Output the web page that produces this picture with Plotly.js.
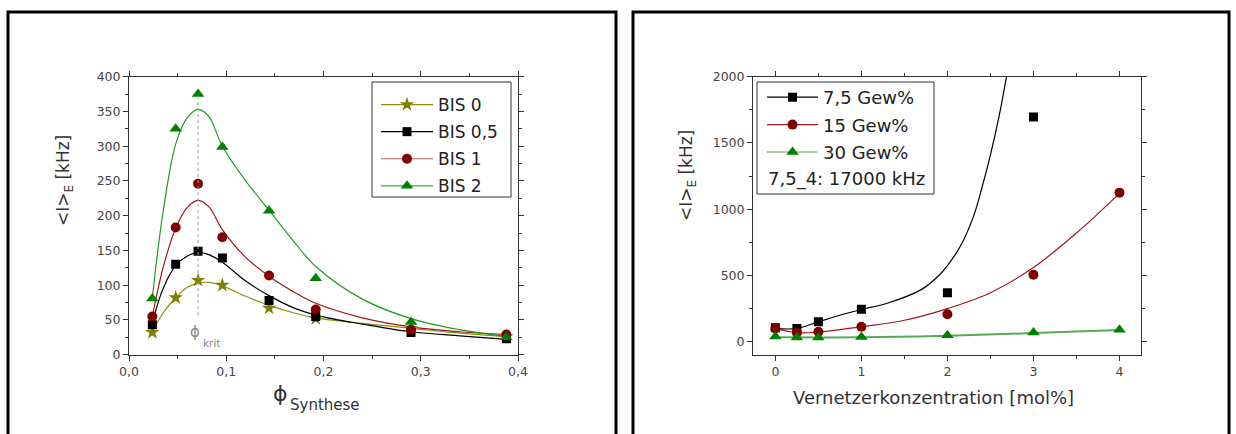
<!DOCTYPE html>
<html>
<head>
<meta charset="utf-8">
<script src="https://cdn.plot.ly/plotly-3.0.1.min.js"></script>
<style>
html,body{margin:0;padding:0;background:#fff;}
#chart{width:1236px;height:434px;}
</style>
</head>
<body>
<div id="chart"></div>
<script>
// ---------- Left panel data ----------
const phiX   = [0.024, 0.048, 0.071, 0.096, 0.144, 0.192, 0.290, 0.388];
const bis0   = [32, 82, 107, 100, 67, 52, 37, 26];
const bis05  = [43, 130, 149, 139, 78, 55, 32, 23];
const bis1   = [55, 183, 246, 169, 114, 65, 36, 29];
const bis2   = [81, 325, 375, 299, 207, 110, 47, 25];
const fitPhiX = [0.024, 0.035, 0.048, 0.06, 0.071, 0.082, 0.096, 0.12, 0.144, 0.17, 0.192, 0.24, 0.29, 0.34, 0.388];
const fitBis0  = [33, 60, 82, 97, 103, 104, 99, 84, 71, 60, 53, 45, 38, 31, 26];
const fitBis05 = [46, 95, 128, 142, 147, 144, 133, 106, 85, 67, 57, 44, 33, 27, 22];
const fitBis1  = [55, 125, 182, 212, 222, 213, 180, 140, 113, 90, 74, 53, 40, 33, 29];
const fitBis2  = [82, 205, 303, 341, 353, 343, 300, 250, 208, 162, 127, 80, 52, 36, 26];
const phiKrit = 0.071;
const phiKritLine = [57, 369];
const leftNames = ["BIS 0", "BIS 0,5", "BIS 1", "BIS 2"];

// ---------- Right panel data ----------
const concX  = [0, 0.25, 0.5, 1, 2, 3, 4];
const gew75  = [105, 100, 150, 245, 370, 1695, 17000];
const gew15  = [100, 68, 75, 113, 207, 505, 1125];
const gew30  = [40, 32, 32, 35, 48, 70, 90];
const fit75X = [0, 0.25, 0.5, 0.75, 1, 1.3, 1.7, 1.9, 2, 2.15, 2.3, 2.4, 2.5, 2.6, 2.7];
const fit75  = [100, 100, 150, 200, 243, 290, 395, 500, 575, 720, 940, 1160, 1410, 1700, 2050];
const fit15X = [0, 0.25, 0.5, 1, 1.5, 2, 2.5, 3, 3.5, 4];
const fit15  = [100, 68, 72, 113, 162, 250, 370, 560, 820, 1120];
const fit30X = [0, 0.5, 1, 2, 3, 4];
const fit30  = [33, 32, 33, 45, 65, 88];
const rightNames = ["7,5 Gew%", "15 Gew%", "30 Gew%"];
const extraNote = "7,5_4: 17000 kHz";

// ---------- helpers ----------
const W = 1236, H = 434;
const px = v => v / W;
const py = v => 1 - v / H;
const FONT = "DejaVu Sans, Liberation Sans, sans-serif";

const cOlive = "#808000", cOliveL = "#8f8f10";
const cBlack = "#000000";
const cRed = "#800000", cRedL = "#a01818";
const cGreen = "#008000", cGreenL = "#1f9a1f", cGreenR = "#55aa55";

function fit(x, y, color, xa, ya, width) {
  return {x: x, y: y, xaxis: xa, yaxis: ya, mode: "lines", type: "scatter",
    line: {color: color, width: width || 1.2, shape: "spline", smoothing: 1},
    showlegend: false, hoverinfo: "skip"};
}
function pts(x, y, color, sym, size, xa, ya) {
  return {x: x, y: y, xaxis: xa, yaxis: ya, mode: "markers", type: "scatter",
    marker: {color: color, symbol: sym, size: size, line: {width: 0}},
    showlegend: false, cliponaxis: true};
}
function leg(name, lineColor, mColor, sym, size, legendId, grp) {
  return {x: [null], y: [null], mode: "lines+markers", type: "scatter", name: name,
    xaxis: legendId === "legend" ? "x" : "x2", yaxis: legendId === "legend" ? "y" : "y2",
    line: {color: lineColor, width: 1.2}, marker: {color: mColor, symbol: sym, size: size},
    legend: legendId, legendgroup: grp, showlegend: true};
}

const traces = [
  fit(fitPhiX, fitBis0, cOliveL, "x", "y"),
  fit(fitPhiX, fitBis05, cBlack, "x", "y"),
  fit(fitPhiX, fitBis1, cRedL, "x", "y"),
  fit(fitPhiX, fitBis2, cGreenL, "x", "y"),
  pts(phiX, bis0, cOlive, "star", 11, "x", "y"),
  pts(phiX, bis05, cBlack, "square", 9, "x", "y"),
  pts(phiX, bis1, cRed, "circle", 10, "x", "y"),
  pts(phiX, bis2, cGreen, "triangle-up", 11, "x", "y"),
  leg(leftNames[0], cOliveL, cOlive, "star", 11, "legend", "a"),
  leg(leftNames[1], cBlack, cBlack, "square", 9, "legend", "b"),
  leg(leftNames[2], "#b06060", cRed, "circle", 10, "legend", "c"),
  leg(leftNames[3], "#3aa83a", cGreen, "triangle-up", 11, "legend", "d"),

  fit(fit75X, fit75, cBlack, "x2", "y2"),
  fit(fit15X, fit15, cRedL, "x2", "y2"),
  fit(fit30X, fit30, cGreenR, "x2", "y2", 2),
  pts(concX, gew75, cBlack, "square", 9, "x2", "y2"),
  pts(concX, gew15, cRed, "circle", 10, "x2", "y2"),
  pts(concX, gew30, cGreen, "triangle-up", 11, "x2", "y2"),
  leg(rightNames[0], cBlack, cBlack, "square", 9, "legend2", "e"),
  leg(rightNames[1], cRedL, cRed, "circle", 10, "legend2", "f"),
  leg(rightNames[2], cGreenR, cGreen, "triangle-up", 11, "legend2", "g")
];

const axBase = {
  showgrid: false, zeroline: false, showline: true, linecolor: "#333", linewidth: 1,
  mirror: "ticks", ticks: "outside", ticklen: 5, tickcolor: "#333", tickwidth: 1,
  tickfont: {family: FONT, size: 12.5, color: "#444"}, fixedrange: true
};

function ann(text, x, y, size, color, extra) {
  return Object.assign({text: text, xref: "paper", yref: "paper", x: px(x), y: py(y),
    xanchor: "center", yanchor: "middle", showarrow: false,
    font: {family: FONT, size: size, color: color}}, extra || {});
}

const layout = {
  width: W, height: H,
  margin: {l: 0, r: 0, t: 0, b: 0, pad: 0},
  paper_bgcolor: "#fff", plot_bgcolor: "#fff",
  separators: ", ",
  showlegend: true,
  xaxis: Object.assign({}, axBase, {domain: [px(129), px(518)], range: [0, 0.4], dtick: 0.1, tick0: 0,
    tickformat: ".1f", anchor: "y", minor: {ticks: "outside", ticklen: 3, dtick: 0.05, tickcolor: "#333"}}),
  yaxis: Object.assign({}, axBase, {domain: [py(354.7), py(76.7)], range: [0, 400], dtick: 50, tick0: 0,
    anchor: "x", minor: {ticks: "outside", ticklen: 3, dtick: 25, tickcolor: "#333"}}),
  xaxis2: Object.assign({}, axBase, {domain: [px(753), px(1141)], range: [-0.26, 4.25], dtick: 1, tick0: 0,
    anchor: "y2", minor: {ticks: "outside", ticklen: 3, dtick: 0.5, tickcolor: "#333"}}),
  yaxis2: Object.assign({}, axBase, {domain: [py(354.7), py(76.7)], range: [-98, 2000], dtick: 500, tick0: 0,
    anchor: "x2", minor: {ticks: "outside", ticklen: 3, dtick: 250, tickcolor: "#333"}}),
  legend: {x: px(376), y: py(87), xanchor: "left", yanchor: "top", bgcolor: "rgba(0,0,0,0)",
    borderwidth: 0, font: {family: FONT, size: 17, color: "#222"}, itemwidth: 52,
    traceorder: "grouped", tracegroupgap: 2, itemclick: false},
  legend2: {x: px(762), y: py(79), xanchor: "left", yanchor: "top", bgcolor: "rgba(0,0,0,0)",
    borderwidth: 0, font: {family: FONT, size: 18, color: "#222"}, itemwidth: 51,
    traceorder: "grouped", tracegroupgap: 1, itemclick: false},
  shapes: [
    {type: "rect", xref: "paper", yref: "paper", x0: px(8), x1: px(616), y0: -0.2, y1: py(12),
      line: {color: "#000", width: 3}},
    {type: "rect", xref: "paper", yref: "paper", x0: px(633), x1: px(1229), y0: -0.2, y1: py(12),
      line: {color: "#000", width: 3}},
    {type: "rect", xref: "paper", yref: "paper", x0: px(372), x1: px(511), y0: py(197), y1: py(82),
      line: {color: "#333", width: 1}},
    {type: "rect", xref: "paper", yref: "paper", x0: px(757), x1: px(934), y0: py(194), y1: py(82),
      line: {color: "#333", width: 1}},
    {type: "line", xref: "x", yref: "y", x0: phiKrit, x1: phiKrit, y0: phiKritLine[0], y1: phiKritLine[1],
      line: {color: "#999", width: 1, dash: "dot"}}
  ],
  annotations: [
    ann("&lt;I&gt;<sub>E</sub> [kHz]", 64, 181, 17, "#333", {textangle: -90}),
    ann("&lt;I&gt;<sub>E</sub> [kHz]", 687, 176, 17, "#333", {textangle: -90}),
    ann("ϕ", 280, 393, 22, "#333"),
    ann("Synthese", 325, 405, 15, "#333"),
    ann("Vernetzerkonzentration [mol%]", 933, 397, 18, "#333"),
    ann("ϕ", 195, 332, 15, "#888"),
    ann("krit", 211, 343, 10.5, "#888"),
    ann(extraNote, 766, 179, 18, "#222", {xanchor: "left"})
  ]
};

Plotly.newPlot("chart", traces, layout, {displayModeBar: false, staticPlot: true});
</script>
</body>
</html>
